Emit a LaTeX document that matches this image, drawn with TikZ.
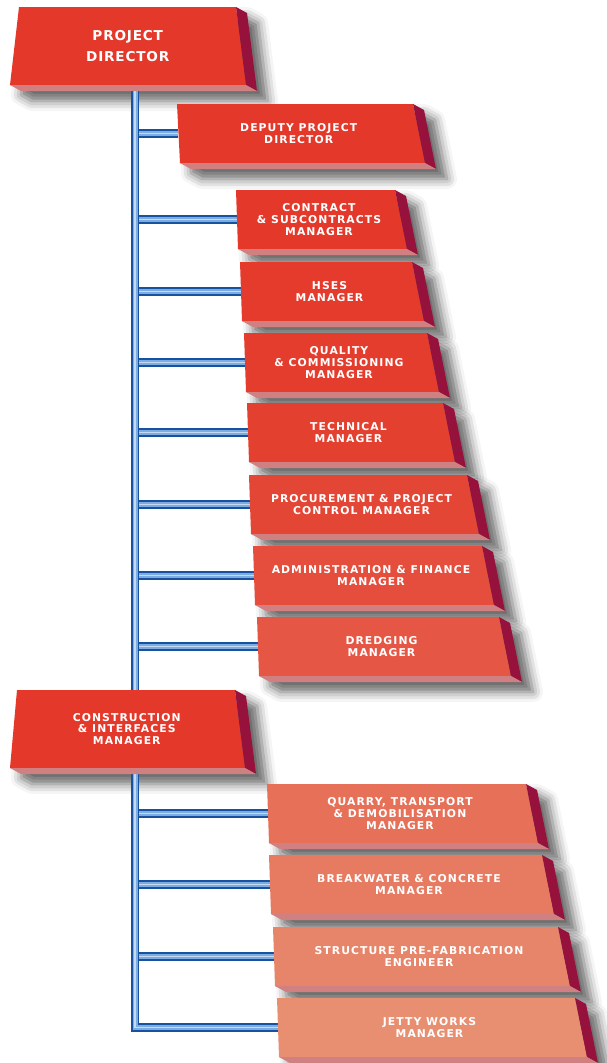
\documentclass[tikz,border=0pt]{standalone}
\usepackage{fontspec}
\newfontfamily\boxfont{DejaVu Sans}[LetterSpace=10]
\newfontfamily\headfont{DejaVu Sans}[LetterSpace=6]
\usetikzlibrary{shadows.blur}

\pgfdeclarelayer{shadow}
\pgfdeclarelayer{pipes}
\pgfsetlayers{shadow,pipes,main}

\definecolor{boxred}{RGB}{228,57,42}
\definecolor{boxpeach}{RGB}{232,152,122}
\definecolor{sidewine}{RGB}{150,18,60}
\definecolor{baserose}{RGB}{208,128,128}
\definecolor{pipedark}{RGB}{22,82,160}
\definecolor{pipelight}{RGB}{125,172,225}

\tikzset{
  boxlabel/.style={text=white, align=center, inner sep=0pt,
    font=\boxfont\bfseries\fontsize{10.8}{11.8}\selectfont},
  toplabel/.style={boxlabel, font=\headfont\bfseries\fontsize{13.6}{21}\selectfont},
  pipe/.style={line width=8.5pt, draw=pipedark,
    postaction={draw=pipelight, line width=5pt},
    postaction={draw=white!55!pipelight, line width=1.4pt}},
  boxshadow/.style={blur shadow={shadow xshift=11pt, shadow yshift=-10pt,
    shadow blur radius=10pt, shadow opacity=60}}
}

\begin{document}
\begin{tikzpicture}[x=1pt, y=-1pt]
  \useasboundingbox (0,0) rectangle (606,1063);

  \foreach \name/\x/\y/\w/\h/\ls/\rs/\mix/\sty/\lbl in {
      pd/19/7/217/78/-9/10/100/toplabel/{PROJECT\\DIRECTOR},
      dep/177/104/236/59/3/12/100/boxlabel/{DEPUTY PROJECT\\DIRECTOR},
      con/236/190/159/59/2/12/100/boxlabel/{CONTRACT\\\& SUBCONTRACTS\\MANAGER},
      hse/240/262/172/59/2/12/98/boxlabel/{HSES\\MANAGER},
      qua/244/333/183/59/2/12/96/boxlabel/{QUALITY\\\& COMMISSIONING\\MANAGER},
      tec/247/403/196/59/2/12/93/boxlabel/{TECHNICAL\\MANAGER},
      pro/249/475/218/59/2/12/86/boxlabel/{PROCUREMENT \& PROJECT\\CONTROL MANAGER},
      adm/253/546/229/59/2/12/78/boxlabel/{ADMINISTRATION \& FINANCE\\MANAGER},
      dre/257/617/242/59/2/12/68/boxlabel/{DREDGING\\MANAGER},
      cim/17/690/218/78/-7/10/100/boxlabel/{CONSTRUCTION\\\& INTERFACES\\MANAGER},
      qtd/267/784/259/59/2/12/42/boxlabel/{QUARRY, TRANSPORT\\\& DEMOBILISATION\\MANAGER},
      bwc/269/855/273/59/2/12/30/boxlabel/{BREAKWATER \& CONCRETE\\MANAGER},
      spf/273/927/285/59/2/12/20/boxlabel/{STRUCTURE PRE-FABRICATION\\ENGINEER},
      jwm/277/998/298/59/2/12/10/boxlabel/{JETTY WORKS\\MANAGER}}{
    \begin{pgfonlayer}{shadow}
      \path[boxshadow] (\x,\y) -- ({\x+\w},\y) -- ({\x+\w+11},{\y+6})
        -- ({\x+\w+\rs+11},{\y+\h+6}) -- ({\x+\ls+11},{\y+\h+6}) -- ({\x+\ls},{\y+\h}) -- cycle;
    \end{pgfonlayer}
    \fill[boxred!\mix!boxpeach] (\x,\y) -- ({\x+\w},\y) -- ({\x+\w+\rs},{\y+\h}) -- ({\x+\ls},{\y+\h}) -- cycle;
    \fill[sidewine] ({\x+\w},\y) -- ({\x+\w+11},{\y+6}) -- ({\x+\w+\rs+11},{\y+\h+6}) -- ({\x+\w+\rs},{\y+\h}) -- cycle;
    \fill[baserose] ({\x+\ls},{\y+\h}) -- ({\x+\w+\rs},{\y+\h}) -- ({\x+\w+\rs+11},{\y+\h+6}) -- ({\x+\ls+11},{\y+\h+6}) -- cycle;
    \node[\sty, minimum width={\w+(\rs-\ls)/2}, minimum height=\h]
      (\name) at ({\x+\ls/2+(\w+(\rs-\ls)/2)/2},{\y+\h/2}) {\lbl};
  }

  \coordinate (trunk) at (135,0);
  \begin{pgfonlayer}{pipes}
    \foreach \b in {dep,con,hse,qua,tec,pro,adm,dre,qtd,bwc,spf}
      \draw[pipe] (trunk |- \b.west) -- (\b.west);
    \draw[pipe] (trunk |- pd.south) -- (trunk |- cim.north);
    \draw[pipe] (trunk |- cim.south) -- (trunk |- jwm.west) -- (jwm.west);
  \end{pgfonlayer}
\end{tikzpicture}
\end{document}
